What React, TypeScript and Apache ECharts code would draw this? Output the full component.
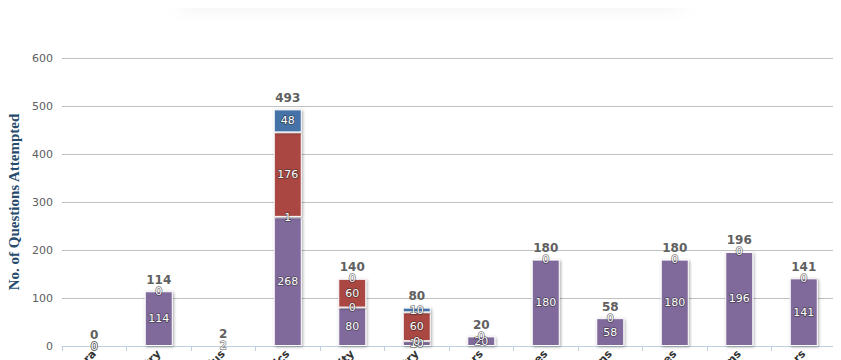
import React, { useEffect, useRef } from "react";
import * as echarts from "echarts";

const categories = [
  "Algebra", "Geometry", "Calculus", "Statistics", "Probability", "Trigonometry",
  "Vectors", "Matrices", "Functions", "Sequences", "Logarithms", "Numbers",
];
const purpleValues = [0, 114, 2, 268, 80, 10, 20, 180, 58, 180, 196, 141];
const greenValues = [0, 0, null, 1, 0, 0, 0, 0, 0, 0, 0, 0];
const redValues = [null, null, null, 176, 60, 60, null, null, null, null, null, null];
const blueValues = [null, null, null, 48, 0, 10, null, null, null, null, null, null];
const totals = [0, 114, 2, 493, 140, 80, 20, 180, 58, 180, 196, 141];
const yTicks = [0, 100, 200, 300, 400, 500, 600];

export default function App() {
  const ref = useRef<HTMLDivElement>(null);
  useEffect(() => {
    if (!ref.current) return;
    const chart = echarts.init(ref.current, undefined, { renderer: "svg" });
    const font = "'DejaVu Sans', Verdana, sans-serif";
    const itemStyle = (color: string) => ({
      color,
      borderColor: "#ffffff",
      borderWidth: 1,
      shadowBlur: 3,
      shadowColor: "rgba(0,0,0,0.35)",
      shadowOffsetX: 1,
      shadowOffsetY: 1,
    });
    const label = {
      show: true,
      position: "inside" as const,
      color: "#ffffff",
      fontFamily: font,
      fontSize: 11,
      textBorderColor: "rgba(40,40,40,0.6)",
      textBorderWidth: 1.5,
    };
    const mk = (name: string, data: (number | null)[], color: string) => ({
      name,
      type: "bar",
      stack: "total",
      barWidth: 28,
      data,
      itemStyle: itemStyle(color),
      label,
    });
    chart.setOption({
      animation: false,
      graphic: [
        {
          type: "rect",
          shape: { x: 172, y: -48, width: 500, height: 40 },
          style: { fill: "#ffffff", shadowBlur: 25, shadowColor: "rgba(0,0,0,0.12)" },
        },
      ],
      grid: { left: 54, right: 13, top: 50, bottom: 22, containLabel: false, outerBoundsMode: "none" },
      xAxis: {
        type: "category",
        data: categories,
        axisLine: { lineStyle: { color: "#C0D0E0" } },
        axisTick: { show: true, length: 5, lineStyle: { color: "#C0D0E0" } },
        axisLabel: {
          rotate: 45,
          interval: 0,
          margin: 6,
          color: "#333333",
          fontWeight: "bold",
          fontFamily: font,
          fontSize: 11,
        },
      },
      yAxis: {
        type: "value",
        min: 0,
        max: 600,
        interval: 100,
        name: "No. of Questions Attempted",
        nameLocation: "middle",
        nameGap: 33,
        nameTextStyle: {
          color: "#274b6d",
          fontFamily: "'Liberation Serif', serif",
          fontWeight: "bold",
          fontSize: 15,
        },
        axisLine: { show: false },
        axisTick: { show: false },
        axisLabel: {
          color: "#606060",
          fontFamily: font,
          fontSize: 11,
          margin: 9,
          formatter: (v: number) => (yTicks.includes(v) ? String(v) : ""),
        },
        splitLine: { lineStyle: { color: "#C0C0C0" } },
      },
      series: [
        mk("Correct", purpleValues, "#80699B"),
        mk("Partial", greenValues, "#89A54E"),
        mk("Wrong", redValues, "#AA4643"),
        mk("Skipped", blueValues, "#4572A7"),
        {
          name: "Total",
          type: "line",
          data: totals,
          symbol: "circle",
          symbolSize: 1,
          showSymbol: true,
          itemStyle: { color: "rgba(0,0,0,0)" },
          lineStyle: { opacity: 0 },
          label: {
            show: true,
            position: "top",
            distance: 5,
            color: "#606060",
            fontWeight: "bold",
            fontFamily: font,
            fontSize: 12,
          },
          silent: true,
          z: 10,
        },
      ],
    });
    return () => chart.dispose();
  }, []);
  return <div ref={ref} style={{ width: 841, height: 360 }} />;
}
